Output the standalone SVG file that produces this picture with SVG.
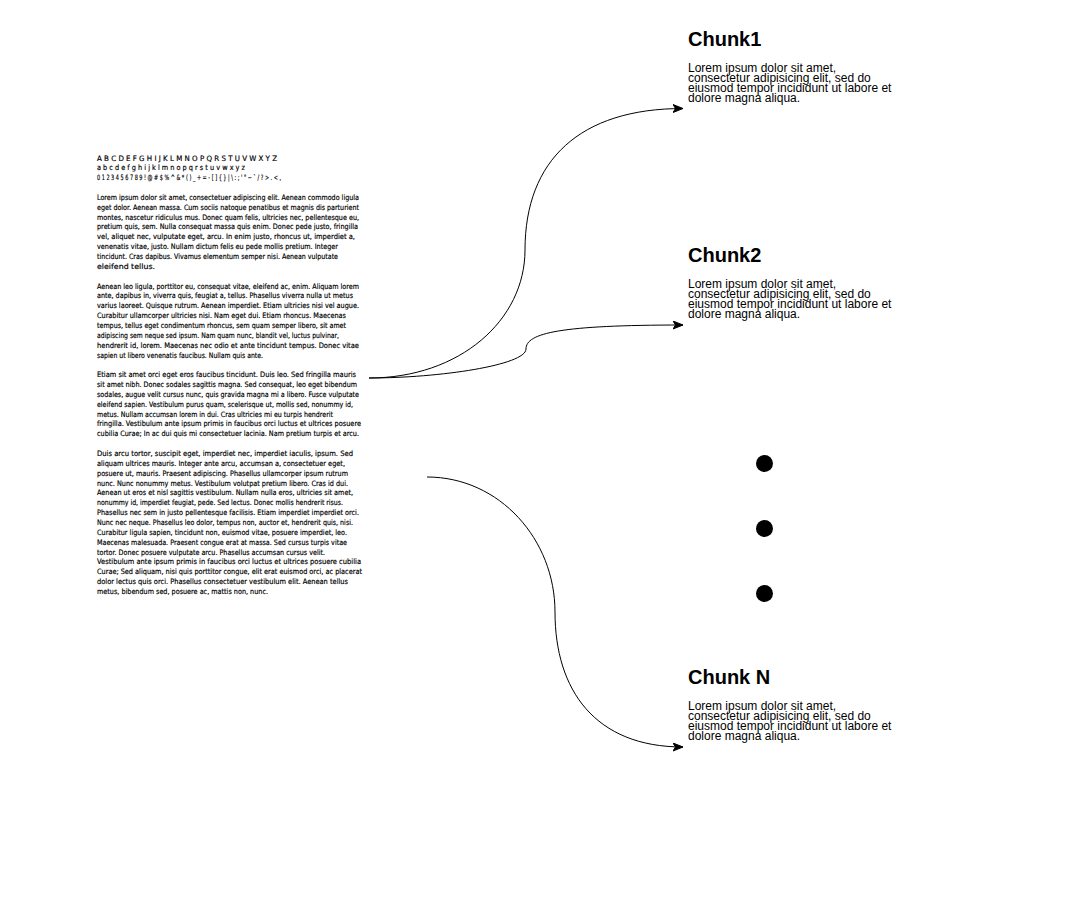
<svg xmlns="http://www.w3.org/2000/svg" width="1070" height="911" viewBox="0 0 1070 911">
<style>
.doc{font-family:"DejaVu Sans","Liberation Sans",sans-serif;font-size:7.4px;fill:#000;stroke:#000;stroke-width:0.18px}
.title{font-family:"Liberation Sans",Arial,sans-serif;font-size:20px;font-weight:bold;fill:#000}
.body{font-family:"Liberation Sans",Arial,sans-serif;font-size:12px;fill:#000}
.edge{fill:none;stroke:#000;stroke-width:1}
</style>
<defs>
<marker id="arr" markerUnits="userSpaceOnUse" markerWidth="11" markerHeight="9" viewBox="0 0 11 9" refX="10.5" refY="4.5" orient="auto">
<path d="M0.5,0.5 L10.5,4.5 L0.5,8.5 L3,4.5 Z" fill="#000" stroke="#000" stroke-width="1"/>
</marker>
</defs>
<rect width="1070" height="911" fill="#fff"/>
<g id="document">
<text class="doc" x="97" y="160.5" textLength="180" lengthAdjust="spacingAndGlyphs">A B C D E F G H I J K L M N O P Q R S T U V W X Y Z</text>
<text class="doc" x="97" y="170.35" textLength="148" lengthAdjust="spacingAndGlyphs">a b c d e f g h i j k l m n o p q r s t u v w x y z</text>
<text class="doc" x="97" y="180.2" textLength="184" lengthAdjust="spacingAndGlyphs">0 1 2 3 4 5 6 7 8 9 ! @ # $ % ^ &amp; * ( ) _ + = - [ ] { } | \ : ; ' " ~ ` / ? &gt; . &lt; ,</text>
<text class="doc" x="97" y="199.9" textLength="262" lengthAdjust="spacingAndGlyphs">Lorem ipsum dolor sit amet, consectetuer adipiscing elit. Aenean commodo ligula</text>
<text class="doc" x="97" y="209.75" textLength="262" lengthAdjust="spacingAndGlyphs">eget dolor. Aenean massa. Cum sociis natoque penatibus et magnis dis parturient</text>
<text class="doc" x="97" y="219.6" textLength="262" lengthAdjust="spacingAndGlyphs">montes, nascetur ridiculus mus. Donec quam felis, ultricies nec, pellentesque eu,</text>
<text class="doc" x="97" y="229.45" textLength="261" lengthAdjust="spacingAndGlyphs">pretium quis, sem. Nulla consequat massa quis enim. Donec pede justo, fringilla</text>
<text class="doc" x="97" y="239.3" textLength="258" lengthAdjust="spacingAndGlyphs">vel, aliquet nec, vulputate eget, arcu. In enim justo, rhoncus ut, imperdiet a,</text>
<text class="doc" x="97" y="249.15" textLength="241" lengthAdjust="spacingAndGlyphs">venenatis vitae, justo. Nullam dictum felis eu pede mollis pretium. Integer</text>
<text class="doc" x="97" y="259" textLength="241" lengthAdjust="spacingAndGlyphs">tincidunt. Cras dapibus. Vivamus elementum semper nisi. Aenean vulputate</text>
<text class="doc" x="97" y="268.85" textLength="58" lengthAdjust="spacingAndGlyphs">eleifend tellus.</text>
<text class="doc" x="97" y="288.55" textLength="262" lengthAdjust="spacingAndGlyphs">Aenean leo ligula, porttitor eu, consequat vitae, eleifend ac, enim. Aliquam lorem</text>
<text class="doc" x="97" y="298.4" textLength="256" lengthAdjust="spacingAndGlyphs">ante, dapibus in, viverra quis, feugiat a, tellus. Phasellus viverra nulla ut metus</text>
<text class="doc" x="97" y="308.25" textLength="262" lengthAdjust="spacingAndGlyphs">varius laoreet. Quisque rutrum. Aenean imperdiet. Etiam ultricies nisi vel augue.</text>
<text class="doc" x="97" y="318.1" textLength="249" lengthAdjust="spacingAndGlyphs">Curabitur ullamcorper ultricies nisi. Nam eget dui. Etiam rhoncus. Maecenas</text>
<text class="doc" x="97" y="327.95" textLength="249" lengthAdjust="spacingAndGlyphs">tempus, tellus eget condimentum rhoncus, sem quam semper libero, sit amet</text>
<text class="doc" x="97" y="337.8" textLength="242" lengthAdjust="spacingAndGlyphs">adipiscing sem neque sed ipsum. Nam quam nunc, blandit vel, luctus pulvinar,</text>
<text class="doc" x="97" y="347.65" textLength="262" lengthAdjust="spacingAndGlyphs">hendrerit id, lorem. Maecenas nec odio et ante tincidunt tempus. Donec vitae</text>
<text class="doc" x="97" y="357.5" textLength="166" lengthAdjust="spacingAndGlyphs">sapien ut libero venenatis faucibus. Nullam quis ante.</text>
<text class="doc" x="97" y="377.2" textLength="259" lengthAdjust="spacingAndGlyphs">Etiam sit amet orci eget eros faucibus tincidunt. Duis leo. Sed fringilla mauris</text>
<text class="doc" x="97" y="387.05" textLength="260" lengthAdjust="spacingAndGlyphs">sit amet nibh. Donec sodales sagittis magna. Sed consequat, leo eget bibendum</text>
<text class="doc" x="97" y="396.9" textLength="262" lengthAdjust="spacingAndGlyphs">sodales, augue velit cursus nunc, quis gravida magna mi a libero. Fusce vulputate</text>
<text class="doc" x="97" y="406.75" textLength="256" lengthAdjust="spacingAndGlyphs">eleifend sapien. Vestibulum purus quam, scelerisque ut, mollis sed, nonummy id,</text>
<text class="doc" x="97" y="416.6" textLength="236" lengthAdjust="spacingAndGlyphs">metus. Nullam accumsan lorem in dui. Cras ultricies mi eu turpis hendrerit</text>
<text class="doc" x="97" y="426.45" textLength="264" lengthAdjust="spacingAndGlyphs">fringilla. Vestibulum ante ipsum primis in faucibus orci luctus et ultrices posuere</text>
<text class="doc" x="97" y="436.3" textLength="262" lengthAdjust="spacingAndGlyphs">cubilia Curae; In ac dui quis mi consectetuer lacinia. Nam pretium turpis et arcu.</text>
<text class="doc" x="97" y="456" textLength="256" lengthAdjust="spacingAndGlyphs">Duis arcu tortor, suscipit eget, imperdiet nec, imperdiet iaculis, ipsum. Sed</text>
<text class="doc" x="97" y="465.85" textLength="248" lengthAdjust="spacingAndGlyphs">aliquam ultrices mauris. Integer ante arcu, accumsan a, consectetuer eget,</text>
<text class="doc" x="97" y="475.7" textLength="251" lengthAdjust="spacingAndGlyphs">posuere ut, mauris. Praesent adipiscing. Phasellus ullamcorper ipsum rutrum</text>
<text class="doc" x="97" y="485.55" textLength="251" lengthAdjust="spacingAndGlyphs">nunc. Nunc nonummy metus. Vestibulum volutpat pretium libero. Cras id dui.</text>
<text class="doc" x="97" y="495.4" textLength="256" lengthAdjust="spacingAndGlyphs">Aenean ut eros et nisl sagittis vestibulum. Nullam nulla eros, ultricies sit amet,</text>
<text class="doc" x="97" y="505.25" textLength="246" lengthAdjust="spacingAndGlyphs">nonummy id, imperdiet feugiat, pede. Sed lectus. Donec mollis hendrerit risus.</text>
<text class="doc" x="97" y="515.1" textLength="262" lengthAdjust="spacingAndGlyphs">Phasellus nec sem in justo pellentesque facilisis. Etiam imperdiet imperdiet orci.</text>
<text class="doc" x="97" y="524.95" textLength="256" lengthAdjust="spacingAndGlyphs">Nunc nec neque. Phasellus leo dolor, tempus non, auctor et, hendrerit quis, nisi.</text>
<text class="doc" x="97" y="534.8" textLength="250" lengthAdjust="spacingAndGlyphs">Curabitur ligula sapien, tincidunt non, euismod vitae, posuere imperdiet, leo.</text>
<text class="doc" x="97" y="544.65" textLength="250" lengthAdjust="spacingAndGlyphs">Maecenas malesuada. Praesent congue erat at massa. Sed cursus turpis vitae</text>
<text class="doc" x="97" y="554.5" textLength="228" lengthAdjust="spacingAndGlyphs">tortor. Donec posuere vulputate arcu. Phasellus accumsan cursus velit.</text>
<text class="doc" x="97" y="564.35" textLength="264" lengthAdjust="spacingAndGlyphs">Vestibulum ante ipsum primis in faucibus orci luctus et ultrices posuere cubilia</text>
<text class="doc" x="97" y="574.2" textLength="265" lengthAdjust="spacingAndGlyphs">Curae; Sed aliquam, nisi quis porttitor congue, elit erat euismod orci, ac placerat</text>
<text class="doc" x="97" y="584.05" textLength="251" lengthAdjust="spacingAndGlyphs">dolor lectus quis orci. Phasellus consectetuer vestibulum elit. Aenean tellus</text>
<text class="doc" x="97" y="593.9" textLength="171" lengthAdjust="spacingAndGlyphs">metus, bibendum sed, posuere ac, mattis non, nunc.</text>
</g>
<g id="chunk1">
<text class="title" x="688" y="46">Chunk1</text>
<text class="body" x="688" y="71.5">Lorem ipsum dolor sit amet,</text>
<text class="body" x="688" y="81.5">consectetur adipisicing elit, sed do</text>
<text class="body" x="688" y="91.5">eiusmod tempor incididunt ut labore et</text>
<text class="body" x="688" y="101.5">dolore magna aliqua.</text>
</g>
<g id="chunk2">
<text class="title" x="688" y="262">Chunk2</text>
<text class="body" x="688" y="287.5">Lorem ipsum dolor sit amet,</text>
<text class="body" x="688" y="297.5">consectetur adipisicing elit, sed do</text>
<text class="body" x="688" y="307.5">eiusmod tempor incididunt ut labore et</text>
<text class="body" x="688" y="317.5">dolore magna aliqua.</text>
</g>
<g id="chunkN">
<text class="title" x="688" y="684">Chunk N</text>
<text class="body" x="688" y="709.5">Lorem ipsum dolor sit amet,</text>
<text class="body" x="688" y="719.5">consectetur adipisicing elit, sed do</text>
<text class="body" x="688" y="729.5">eiusmod tempor incididunt ut labore et</text>
<text class="body" x="688" y="739.5">dolore magna aliqua.</text>
</g>
<g id="ellipsis">
<circle cx="764.5" cy="463.5" r="8.5" fill="#000"/>
<circle cx="764.5" cy="528.5" r="8.5" fill="#000"/>
<circle cx="764.5" cy="593.5" r="8.5" fill="#000"/>
</g>
<g id="connectors">
<path class="edge" marker-end="url(#arr)" d="M369,378 C460,378 525,320 525,250 C525,160 580,108.5 683,108.5"/>
<path class="edge" marker-end="url(#arr)" d="M369,378 C440,378 526,365 526,349 C526,333 560,325 683,325"/>
<path class="edge" marker-end="url(#arr)" d="M427,477 C500,477 555,540 555,612 C555,690 595,747 683,747"/>
</g>
</svg>
